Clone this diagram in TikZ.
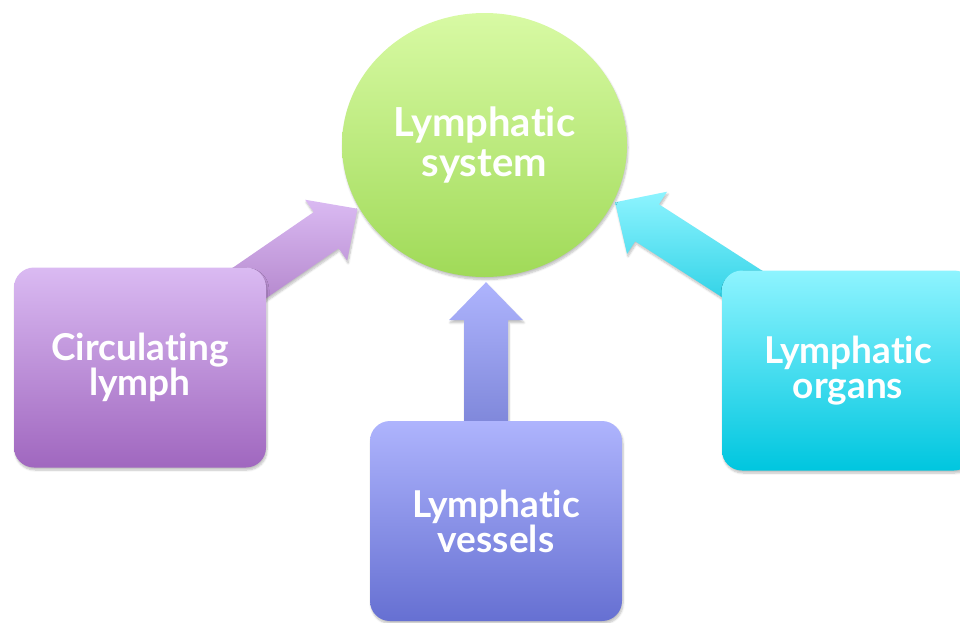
\documentclass[tikz,border=0pt]{standalone}
\usepackage{fontspec}
\setmainfont[Ligatures={NoCommon,NoRare}]{Lato}
\usepackage{xcolor}
\usetikzlibrary{calc,shapes.geometric,shadows.blur}
\pgfdeclarelayer{back}
\pgfsetlayers{back,main}

\definecolor{hubtop}{HTML}{D8FAA4}
\definecolor{hubbot}{HTML}{A0DA58}
\definecolor{lymphtop}{HTML}{DABAF2}
\definecolor{lymphbot}{HTML}{A067BF}
\definecolor{vesseltop}{HTML}{AEB4FD}
\definecolor{vesselbot}{HTML}{6670D2}
\definecolor{organtop}{HTML}{8EF4FF}
\definecolor{organbot}{HTML}{00C6DF}

\tikzset{
  softshadow/.style={blur shadow={shadow blur steps=6, shadow xshift=1pt, shadow yshift=-2.5pt, shadow opacity=25}},
  box/.style={rectangle, rounded corners=20pt, minimum width=252pt, minimum height=200pt,
    align=center, text=white, font=\fontsize{37}{35}\selectfont\bfseries, softshadow},
  hub/.style={ellipse, minimum width=285pt, minimum height=264pt, inner sep=0pt,
    align=center, text=white, font=\fontsize{40}{40}\selectfont\bfseries,
    top color=hubtop, bottom color=hubbot, softshadow}
}

% tail, tip, top colour, bottom colour
\newcommand{\blockarrow}[4]{%
  \coordinate (hb) at ($(#2)!38pt!(#1)$);
  \shade[top color=#3, bottom color=#4, softshadow]
    ($(#1)!22pt!90:(#2)$) -- ($(hb)!22pt!90:(#2)$) -- ($(hb)!37pt!90:(#2)$) -- (#2)
    -- ($(hb)!37pt!-90:(#2)$) -- ($(hb)!22pt!-90:(#2)$) -- ($(#1)!22pt!-90:(#2)$) -- cycle;
}

\begin{document}
\begin{tikzpicture}[x=1pt,y=-1pt]
\useasboundingbox (0,0) rectangle (960,622);

\node[hub] (system) at (484.5,145) {Lymphatic\\system};
\node[box, top color=lymphtop, bottom color=lymphbot] (lymph) at (140,367.5) {Circulating\\lymph};
\node[box, top color=vesseltop, bottom color=vesselbot] (vessels) at (496,521) {Lymphatic\\vessels};
\node[box, top color=organtop, bottom color=organbot] (organs) at (848,370.5) {Lymphatic\\organs};

% arrows sit behind the boxes
\coordinate (tailL) at ($(lymph.north east)+(-26,22)$);
\coordinate (tipL) at ($(system.207)+(-2,0)$);
\coordinate (tailV) at ($(vessels.north)+(-10,10)$);
\coordinate (tipV) at ($(system.south)+(1.5,5)$);
\coordinate (tailO) at ($(organs.north west)+(38,25)$);
\coordinate (tipO) at ($(system.336)+(2,0)$);
\begin{pgfonlayer}{back}
\blockarrow{tailL}{tipL}{lymphtop}{lymphbot!80!white}
\blockarrow{tailV}{tipV}{vesseltop}{vesselbot!85!white}
\blockarrow{tailO}{tipO}{organtop}{organbot!85!white}
\end{pgfonlayer}
\end{tikzpicture}
\end{document}
